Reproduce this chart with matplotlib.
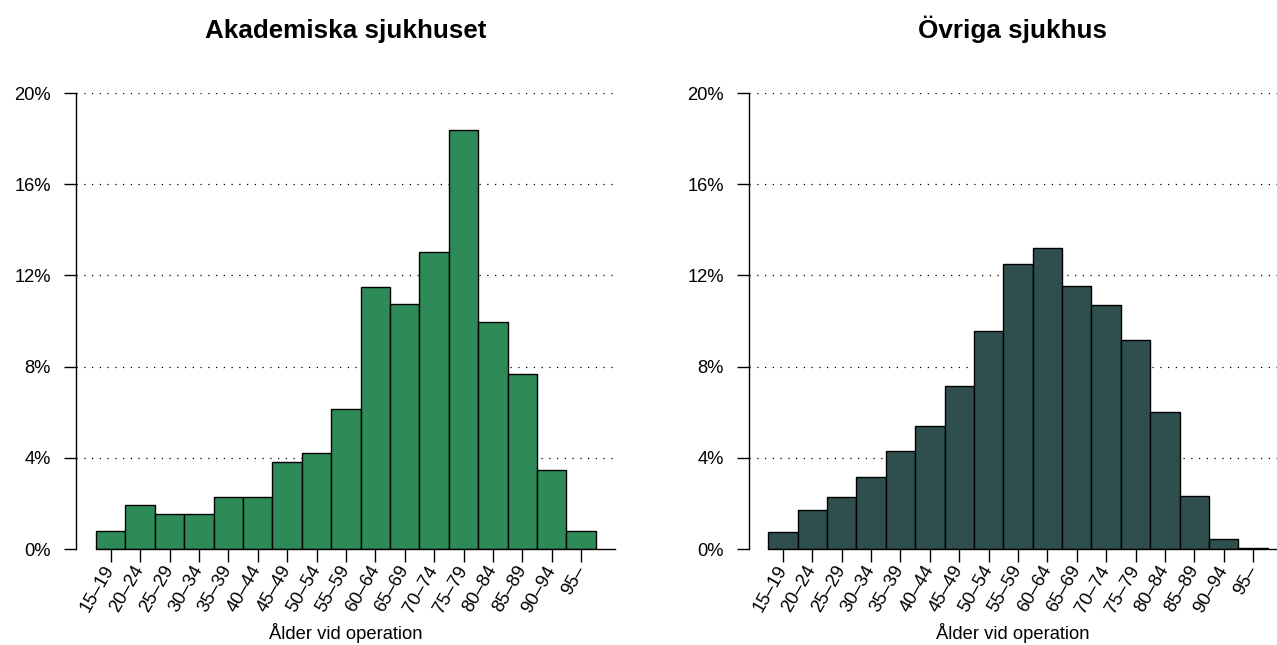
import matplotlib
matplotlib.use("Agg")
import matplotlib.pyplot as plt
import numpy as np

plt.rcParams['font.family'] = ['Liberation Sans', 'DejaVu Sans']

# age groups and share of operations (%)
age_groups = ["15–19", "20–24", "25–29", "30–34", "35–39", "40–44", "45–49",
              "50–54", "55–59", "60–64", "65–69", "70–74", "75–79", "80–84",
              "85–89", "90–94", "95–"]
akademiska = [0.77, 1.92, 1.53, 1.53, 2.30, 2.30, 3.83, 4.21, 6.13,
              11.49, 10.73, 13.03, 18.39, 9.96, 7.66, 3.45, 0.77]
ovriga = [0.76, 1.73, 2.27, 3.16, 4.30, 5.41, 7.13, 9.55, 12.49,
          13.18, 11.52, 10.69, 9.18, 6.01, 2.32, 0.44, 0.05]
y_ticks = [0, 4, 8, 12, 16, 20]

titles = ["Akademiska sjukhuset", "Övriga sjukhus"]
colors = ["#2E8B57", "#2F4F4F"]

W, H = 1277, 645
fig = plt.figure(figsize=(W / 100, H / 100), dpi=100)

panels = [
    # left px, right px, xlim
    (76, 615, (-0.68, 17.65)),
    (749, 1277, (-0.65, 17.31)),
]


def draw_panel(ax, values, color, title, xlim):
    x = np.arange(len(values)) + 0.5
    ax.set_xlim(*xlim)
    ax.set_ylim(0, 20)
    for t in y_ticks[1:]:
        ax.axhline(t, color="black", lw=0.9, ls=(0, (1, 5.2)), zorder=1)
    ax.bar(x, values, width=1.0, color=color, edgecolor="black", lw=1.0, zorder=2)
    for s in ["top", "right"]:
        ax.spines[s].set_visible(False)
    ax.spines["left"].set_bounds(0, 20)
    ax.spines["bottom"].set_bounds(0, xlim[1])
    ax.spines["left"].set_linewidth(1.0)
    ax.spines["bottom"].set_linewidth(1.0)
    ax.set_yticks(y_ticks)
    ax.set_yticklabels([f"{t}%" for t in y_ticks])
    ax.set_xticks(x)
    ax.set_xticklabels(age_groups, rotation=60, ha="right", va="center",
                       rotation_mode="anchor")
    ax.tick_params(axis="y", length=9, width=1.0, pad=9, labelsize=13.2)
    ax.tick_params(axis="x", length=9, width=1.0, pad=4, labelsize=13.2)
    ax.set_xlabel("Ålder vid operation", fontsize=13.2, labelpad=5.5)
    ax.set_title(title, fontsize=18.7, fontweight="bold", pad=39.5)


for (lpx, rpx, xlim), vals, col, ttl in zip(panels, [akademiska, ovriga], colors, titles):
    ax = fig.add_axes([lpx / W, (H - 549) / H, (rpx - lpx) / W, 456 / H])
    draw_panel(ax, vals, col, ttl, xlim)

fig.savefig("out.png", dpi=100)
